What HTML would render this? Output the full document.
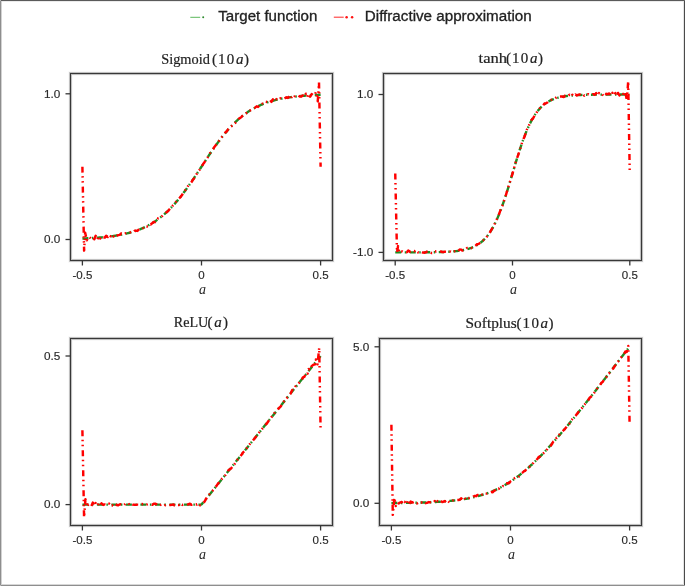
<!DOCTYPE html>
<html><head><meta charset="utf-8"><style>
html,body{margin:0;padding:0;background:#fff;}
#wrap{position:relative;width:685px;height:586px;overflow:hidden;}
svg{position:absolute;left:0;top:0;will-change:transform;}
.tk{font-family:"Liberation Sans",sans-serif;font-size:10.5px;fill:#2a2a2a;stroke:#2a2a2a;stroke-width:0.15px;}
.xl{font-family:"Liberation Serif",serif;font-size:14px;font-style:italic;fill:#262626;}
.tt{font-family:"Liberation Serif",serif;font-size:15px;fill:#222;stroke:#222;stroke-width:0.2px;}
.lg{font-family:"Liberation Sans",sans-serif;font-size:14px;fill:#222;stroke:#222;stroke-width:0.3px;}
</style></head><body><div id="wrap">
<svg width="685" height="586" viewBox="0 0 685 586"><g><rect width="685" height="586" fill="#fff"/>
<path d="M82.40 238.52 L83.20 238.49 L83.99 238.46 L84.79 238.42 L85.59 238.39 L86.38 238.35 L87.18 238.31 L87.98 238.27 L88.77 238.23 L89.57 238.19 L90.37 238.14 L91.16 238.10 L91.96 238.05 L92.76 238.00 L93.55 237.95 L94.35 237.90 L95.15 237.84 L95.94 237.79 L96.74 237.73 L97.54 237.67 L98.33 237.61 L99.13 237.55 L99.93 237.48 L100.72 237.41 L101.52 237.34 L102.32 237.27 L103.11 237.19 L103.91 237.12 L104.71 237.04 L105.50 236.96 L106.30 236.87 L107.10 236.78 L107.89 236.69 L108.69 236.60 L109.49 236.50 L110.28 236.40 L111.08 236.30 L111.88 236.19 L112.67 236.08 L113.47 235.97 L114.27 235.85 L115.06 235.73 L115.86 235.61 L116.66 235.48 L117.45 235.35 L118.25 235.21 L119.05 235.07 L119.84 234.92 L120.64 234.77 L121.44 234.61 L122.23 234.45 L123.03 234.29 L123.83 234.12 L124.62 233.94 L125.42 233.76 L126.22 233.57 L127.01 233.38 L127.81 233.18 L128.61 232.98 L129.40 232.76 L130.20 232.55 L131.00 232.32 L131.79 232.09 L132.59 231.85 L133.39 231.60 L134.18 231.35 L134.98 231.09 L135.78 230.82 L136.57 230.54 L137.37 230.26 L138.17 229.96 L138.96 229.66 L139.76 229.35 L140.56 229.03 L141.35 228.70 L142.15 228.36 L142.95 228.01 L143.74 227.65 L144.54 227.28 L145.34 226.91 L146.13 226.52 L146.93 226.11 L147.73 225.70 L148.52 225.28 L149.32 224.84 L150.12 224.40 L150.91 223.94 L151.71 223.47 L152.51 222.98 L153.30 222.49 L154.10 221.98 L154.90 221.46 L155.69 220.92 L156.49 220.37 L157.29 219.81 L158.08 219.23 L158.88 218.64 L159.68 218.04 L160.47 217.42 L161.27 216.78 L162.07 216.13 L162.86 215.47 L163.66 214.79 L164.46 214.10 L165.25 213.39 L166.05 212.67 L166.85 211.93 L167.64 211.17 L168.44 210.40 L169.24 209.61 L170.03 208.81 L170.83 207.99 L171.63 207.16 L172.42 206.31 L173.22 205.44 L174.02 204.56 L174.81 203.67 L175.61 202.76 L176.41 201.83 L177.20 200.89 L178.00 199.93 L178.80 198.96 L179.59 197.97 L180.39 196.97 L181.19 195.96 L181.98 194.93 L182.78 193.89 L183.58 192.84 L184.37 191.77 L185.17 190.69 L185.97 189.60 L186.76 188.49 L187.56 187.38 L188.36 186.26 L189.15 185.12 L189.95 183.98 L190.75 182.82 L191.54 181.66 L192.34 180.49 L193.14 179.31 L193.93 178.13 L194.73 176.94 L195.53 175.74 L196.32 174.54 L197.12 173.33 L197.92 172.12 L198.71 170.91 L199.51 169.69 L200.31 168.48 L201.10 167.26 L201.90 166.04 L202.69 164.82 L203.49 163.61 L204.29 162.39 L205.08 161.18 L205.88 159.97 L206.68 158.76 L207.47 157.56 L208.27 156.36 L209.07 155.17 L209.86 153.99 L210.66 152.81 L211.46 151.64 L212.25 150.48 L213.05 149.32 L213.85 148.18 L214.64 147.04 L215.44 145.92 L216.24 144.81 L217.03 143.70 L217.83 142.61 L218.63 141.53 L219.42 140.46 L220.22 139.41 L221.02 138.37 L221.81 137.34 L222.61 136.33 L223.41 135.33 L224.20 134.34 L225.00 133.37 L225.80 132.41 L226.59 131.47 L227.39 130.54 L228.19 129.63 L228.98 128.74 L229.78 127.86 L230.58 126.99 L231.37 126.14 L232.17 125.31 L232.97 124.49 L233.76 123.69 L234.56 122.90 L235.36 122.13 L236.15 121.37 L236.95 120.63 L237.75 119.91 L238.54 119.20 L239.34 118.51 L240.14 117.83 L240.93 117.17 L241.73 116.52 L242.53 115.88 L243.32 115.26 L244.12 114.66 L244.92 114.07 L245.71 113.49 L246.51 112.93 L247.31 112.38 L248.10 111.84 L248.90 111.32 L249.70 110.81 L250.49 110.32 L251.29 109.83 L252.09 109.36 L252.88 108.90 L253.68 108.46 L254.48 108.02 L255.27 107.60 L256.07 107.19 L256.87 106.78 L257.66 106.39 L258.46 106.02 L259.26 105.65 L260.05 105.29 L260.85 104.94 L261.65 104.60 L262.44 104.27 L263.24 103.95 L264.04 103.64 L264.83 103.34 L265.63 103.04 L266.43 102.76 L267.22 102.48 L268.02 102.21 L268.82 101.95 L269.61 101.70 L270.41 101.45 L271.21 101.21 L272.00 100.98 L272.80 100.75 L273.60 100.54 L274.39 100.32 L275.19 100.12 L275.99 99.92 L276.78 99.73 L277.58 99.54 L278.38 99.36 L279.17 99.18 L279.97 99.01 L280.77 98.85 L281.56 98.69 L282.36 98.53 L283.16 98.38 L283.95 98.23 L284.75 98.09 L285.55 97.95 L286.34 97.82 L287.14 97.69 L287.94 97.57 L288.73 97.45 L289.53 97.33 L290.33 97.22 L291.12 97.11 L291.92 97.00 L292.72 96.90 L293.51 96.80 L294.31 96.70 L295.11 96.61 L295.90 96.52 L296.70 96.43 L297.50 96.34 L298.29 96.26 L299.09 96.18 L299.89 96.11 L300.68 96.03 L301.48 95.96 L302.28 95.89 L303.07 95.82 L303.87 95.75 L304.67 95.69 L305.46 95.63 L306.26 95.57 L307.06 95.51 L307.85 95.46 L308.65 95.40 L309.45 95.35 L310.24 95.30 L311.04 95.25 L311.84 95.20 L312.63 95.16 L313.43 95.11 L314.23 95.07 L315.02 95.03 L315.82 94.99 L316.62 94.95 L317.41 94.91 L318.21 94.88 L319.01 94.84 L319.80 94.81 L320.60 94.78" fill="none" stroke="#228b22" stroke-width="2.4" stroke-dasharray="6 3.5 1.5 3.5"/>
<path d="M82.40 166.65 L84.10 250.64 L85.16 232.82 L86.83 240.34 L88.26 237.10 L89.58 237.35 L91.44 239.07 L92.82 237.41 L94.32 239.20 L95.69 235.80 L97.36 239.49 L98.70 236.51 L100.24 238.49 L101.59 236.13 L103.06 237.46 L104.93 237.48 L106.14 235.78 L107.75 236.95 L109.19 234.76 L110.62 236.29 L112.10 234.36 L113.76 236.42 L115.11 234.47 L116.62 235.98 L118.13 235.16 L119.80 234.84 L121.21 233.36 L122.65 233.78 L124.00 234.41 L125.37 233.38 L127.20 232.89 L128.70 232.34 L130.02 232.33 L131.61 231.49 L133.13 232.43 L134.63 230.79 L136.13 230.62 L137.42 230.90 L139.20 229.09 L140.27 229.28 L142.08 228.24 L143.51 228.07 L145.06 226.24 L146.70 226.55 L148.13 226.26 L149.22 223.99 L150.63 224.47 L152.49 223.01 L153.71 221.97 L155.35 221.97 L156.96 220.68 L158.08 218.31 L159.50 218.09 L161.34 216.94 L162.80 215.49 L164.24 214.56 L165.78 212.85 L167.13 211.90 L168.52 210.61 L170.21 208.43 L171.58 207.03 L172.97 205.36 L174.78 203.77 L176.18 201.67 L177.74 200.07 L179.02 198.42 L180.56 196.99 L182.00 195.10 L183.50 192.33 L185.15 190.41 L186.50 188.98 L188.15 185.88 L189.64 184.37 L191.38 182.28 L192.36 180.58 L194.19 178.17 L195.53 175.59 L197.03 173.35 L198.31 171.11 L199.94 169.43 L201.61 166.51 L202.98 164.27 L204.49 162.23 L205.92 159.79 L207.63 157.53 L208.94 154.98 L210.10 153.14 L211.82 150.83 L213.11 149.18 L214.41 146.95 L216.31 144.54 L218.08 142.84 L219.37 140.37 L220.68 139.01 L222.20 136.64 L224.00 135.02 L225.34 132.51 L226.82 131.30 L228.29 128.91 L229.79 126.93 L231.40 126.23 L232.85 124.21 L234.28 123.37 L235.58 122.67 L237.31 120.05 L238.62 118.76 L240.37 117.82 L241.51 116.86 L243.16 115.16 L244.67 114.31 L245.96 113.34 L247.91 112.58 L249.36 110.49 L250.56 110.31 L252.23 109.30 L253.66 107.95 L254.70 107.90 L256.62 106.33 L258.06 106.92 L259.57 105.37 L260.89 105.17 L262.50 103.63 L264.00 103.81 L265.69 101.77 L267.06 102.02 L268.49 102.26 L270.21 100.26 L271.39 101.83 L272.90 99.40 L274.18 101.12 L276.17 99.02 L277.57 100.45 L279.05 98.94 L280.50 98.31 L281.91 99.19 L283.41 99.20 L284.83 98.19 L286.33 97.32 L287.86 97.98 L289.56 96.16 L290.91 98.49 L292.30 95.92 L293.72 97.38 L295.20 95.60 L297.02 96.35 L298.34 95.48 L299.77 96.57 L301.19 96.53 L302.57 95.45 L304.21 97.01 L305.84 93.69 L307.14 96.93 L308.66 93.47 L310.15 96.69 L311.68 94.05 L312.92 95.17 L314.61 95.10 L316.01 91.94 L317.76 101.31 L319.00 82.43 L320.60 166.65" fill="none" stroke="#ff0000" stroke-width="2.45" stroke-dasharray="6 3.5 1.5 3.5 1.5 4" stroke-linejoin="round"/>
<rect x="70.5" y="73.5" width="262.0" height="187.0" fill="none" stroke="#f8f8f8" stroke-width="4.60"/>
<rect x="70.5" y="73.5" width="262.0" height="187.0" fill="none" stroke="#c8c8c8" stroke-width="3.00"/>
<rect x="70.5" y="73.5" width="262.0" height="187.0" fill="none" stroke="#383838" stroke-width="1.10"/>
<line x1="82.4" y1="260.5" x2="82.4" y2="265.5" stroke="#363636" stroke-width="1.3"/>
<text transform="translate(82.4 278.8) scale(1.1 1)" text-anchor="middle" class="tk">-0.5</text>
<line x1="201.5" y1="260.5" x2="201.5" y2="265.5" stroke="#363636" stroke-width="1.3"/>
<text transform="translate(201.5 278.8) scale(1.1 1)" text-anchor="middle" class="tk">0</text>
<line x1="320.6" y1="260.5" x2="320.6" y2="265.5" stroke="#363636" stroke-width="1.3"/>
<text transform="translate(320.6 278.8) scale(1.1 1)" text-anchor="middle" class="tk">0.5</text>
<text x="202.5" y="293.7" text-anchor="middle" class="xl">a</text>
<line x1="65.5" y1="93.8" x2="70.5" y2="93.8" stroke="#363636" stroke-width="1.3"/>
<text transform="translate(60.3 97.6) scale(1.12 1)" text-anchor="end" class="tk">1.0</text>
<line x1="65.5" y1="239.5" x2="70.5" y2="239.5" stroke="#363636" stroke-width="1.3"/>
<text transform="translate(60.3 243.3) scale(1.12 1)" text-anchor="end" class="tk">0.0</text>
<text transform="translate(161.22 63.70) scale(0.9571 1)" class="tt">Sigmoid</text>
<text x="211.90" y="63.70" class="tt">(</text>
<text x="217.90" y="63.70" class="tt">1</text>
<text x="226.80" y="63.70" class="tt">0</text>
<text x="235.95" y="63.70" class="tt" font-style="italic">a</text>
<text x="244.00" y="63.70" class="tt">)</text>
<path d="M395.25 252.39 L396.03 252.39 L396.82 252.39 L397.60 252.39 L398.39 252.39 L399.17 252.39 L399.96 252.39 L400.74 252.39 L401.52 252.39 L402.31 252.39 L403.09 252.39 L403.88 252.39 L404.66 252.38 L405.45 252.38 L406.23 252.38 L407.01 252.38 L407.80 252.38 L408.58 252.38 L409.37 252.38 L410.15 252.37 L410.94 252.37 L411.72 252.37 L412.50 252.37 L413.29 252.37 L414.07 252.36 L414.86 252.36 L415.64 252.36 L416.43 252.36 L417.21 252.35 L417.99 252.35 L418.78 252.35 L419.56 252.34 L420.35 252.34 L421.13 252.33 L421.92 252.33 L422.70 252.33 L423.48 252.32 L424.27 252.31 L425.05 252.31 L425.84 252.30 L426.62 252.30 L427.41 252.29 L428.19 252.28 L428.97 252.27 L429.76 252.26 L430.54 252.25 L431.33 252.24 L432.11 252.23 L432.90 252.22 L433.68 252.21 L434.46 252.20 L435.25 252.18 L436.03 252.17 L436.82 252.15 L437.60 252.13 L438.39 252.12 L439.17 252.10 L439.95 252.08 L440.74 252.05 L441.52 252.03 L442.31 252.00 L443.09 251.98 L443.88 251.95 L444.66 251.92 L445.44 251.88 L446.23 251.85 L447.01 251.81 L447.80 251.77 L448.58 251.73 L449.37 251.68 L450.15 251.63 L450.93 251.58 L451.72 251.52 L452.50 251.46 L453.29 251.39 L454.07 251.33 L454.86 251.25 L455.64 251.17 L456.42 251.09 L457.21 251.00 L457.99 250.90 L458.78 250.80 L459.56 250.69 L460.35 250.57 L461.13 250.45 L461.91 250.32 L462.70 250.17 L463.48 250.02 L464.27 249.86 L465.05 249.69 L465.84 249.50 L466.62 249.31 L467.40 249.10 L468.19 248.87 L468.97 248.64 L469.76 248.38 L470.54 248.11 L471.33 247.82 L472.11 247.52 L472.89 247.19 L473.68 246.84 L474.46 246.47 L475.25 246.08 L476.03 245.66 L476.82 245.22 L477.60 244.74 L478.38 244.24 L479.17 243.71 L479.95 243.14 L480.74 242.54 L481.52 241.90 L482.31 241.23 L483.09 240.51 L483.87 239.76 L484.66 238.96 L485.44 238.11 L486.23 237.22 L487.01 236.28 L487.80 235.28 L488.58 234.23 L489.36 233.13 L490.15 231.97 L490.93 230.75 L491.72 229.47 L492.50 228.13 L493.29 226.72 L494.07 225.25 L494.85 223.71 L495.64 222.11 L496.42 220.44 L497.21 218.70 L497.99 216.89 L498.78 215.02 L499.56 213.07 L500.34 211.07 L501.13 208.99 L501.91 206.86 L502.70 204.66 L503.48 202.40 L504.27 200.09 L505.05 197.72 L505.83 195.31 L506.62 192.85 L507.40 190.35 L508.19 187.81 L508.97 185.24 L509.76 182.65 L510.54 180.04 L511.32 177.41 L512.11 174.77 L512.89 172.13 L513.68 169.49 L514.46 166.86 L515.24 164.25 L516.03 161.66 L516.81 159.09 L517.60 156.55 L518.38 154.05 L519.17 151.59 L519.95 149.18 L520.73 146.81 L521.52 144.50 L522.30 142.24 L523.09 140.04 L523.87 137.91 L524.66 135.83 L525.44 133.83 L526.22 131.88 L527.01 130.01 L527.79 128.20 L528.58 126.46 L529.36 124.79 L530.15 123.19 L530.93 121.65 L531.71 120.18 L532.50 118.77 L533.28 117.43 L534.07 116.15 L534.85 114.93 L535.64 113.77 L536.42 112.67 L537.20 111.62 L537.99 110.62 L538.77 109.68 L539.56 108.79 L540.34 107.94 L541.13 107.14 L541.91 106.39 L542.69 105.67 L543.48 105.00 L544.26 104.36 L545.05 103.76 L545.83 103.19 L546.62 102.66 L547.40 102.16 L548.18 101.68 L548.97 101.24 L549.75 100.82 L550.54 100.43 L551.32 100.06 L552.11 99.71 L552.89 99.38 L553.67 99.08 L554.46 98.79 L555.24 98.52 L556.03 98.26 L556.81 98.03 L557.60 97.80 L558.38 97.59 L559.16 97.40 L559.95 97.21 L560.73 97.04 L561.52 96.88 L562.30 96.73 L563.09 96.58 L563.87 96.45 L564.65 96.33 L565.44 96.21 L566.22 96.10 L567.01 96.00 L567.79 95.90 L568.58 95.81 L569.36 95.73 L570.14 95.65 L570.93 95.57 L571.71 95.51 L572.50 95.44 L573.28 95.38 L574.07 95.32 L574.85 95.27 L575.63 95.22 L576.42 95.17 L577.20 95.13 L577.99 95.09 L578.77 95.05 L579.56 95.02 L580.34 94.98 L581.12 94.95 L581.91 94.92 L582.69 94.90 L583.48 94.87 L584.26 94.85 L585.05 94.82 L585.83 94.80 L586.61 94.78 L587.40 94.77 L588.18 94.75 L588.97 94.73 L589.75 94.72 L590.54 94.70 L591.32 94.69 L592.10 94.68 L592.89 94.67 L593.67 94.66 L594.46 94.65 L595.24 94.64 L596.03 94.63 L596.81 94.62 L597.59 94.61 L598.38 94.60 L599.16 94.60 L599.95 94.59 L600.73 94.59 L601.52 94.58 L602.30 94.57 L603.08 94.57 L603.87 94.57 L604.65 94.56 L605.44 94.56 L606.22 94.55 L607.01 94.55 L607.79 94.55 L608.57 94.54 L609.36 94.54 L610.14 94.54 L610.93 94.54 L611.71 94.53 L612.50 94.53 L613.28 94.53 L614.06 94.53 L614.85 94.53 L615.63 94.52 L616.42 94.52 L617.20 94.52 L617.99 94.52 L618.77 94.52 L619.55 94.52 L620.34 94.52 L621.12 94.51 L621.91 94.51 L622.69 94.51 L623.48 94.51 L624.26 94.51 L625.04 94.51 L625.83 94.51 L626.61 94.51 L627.40 94.51 L628.18 94.51 L628.97 94.51 L629.75 94.51" fill="none" stroke="#228b22" stroke-width="2.4" stroke-dasharray="6 3.5 1.5 3.5"/>
<path d="M395.25 173.45 L397.00 252.63 L398.03 246.09 L399.41 252.55 L400.96 251.43 L402.38 251.55 L404.16 252.67 L405.63 252.07 L406.83 252.21 L408.23 250.47 L409.85 251.70 L411.58 251.16 L412.41 251.57 L414.38 251.00 L415.61 253.10 L417.39 251.81 L418.54 252.67 L420.12 253.21 L421.41 251.78 L422.95 252.57 L424.77 252.72 L426.15 252.09 L427.43 251.39 L428.83 251.40 L430.14 252.10 L431.83 253.11 L433.35 252.76 L434.81 251.31 L436.27 251.56 L437.58 251.37 L439.21 252.16 L440.68 251.52 L442.34 252.04 L443.90 251.91 L445.06 251.68 L446.43 251.81 L448.00 251.77 L449.39 251.55 L450.83 251.61 L452.40 252.46 L453.72 251.40 L455.43 251.11 L456.79 249.82 L458.31 251.02 L459.71 249.44 L461.09 249.60 L462.53 250.64 L464.10 250.17 L465.52 249.36 L467.10 248.01 L468.53 248.41 L469.79 247.74 L471.47 248.01 L472.73 248.32 L474.30 246.57 L475.82 245.34 L477.01 244.26 L478.80 243.85 L480.28 242.72 L481.70 241.05 L483.12 240.35 L484.60 238.33 L485.97 237.70 L487.54 235.84 L488.97 233.93 L490.53 231.25 L491.80 229.13 L493.48 226.34 L494.93 223.34 L496.36 220.39 L497.78 216.74 L499.39 213.33 L500.53 209.95 L502.31 205.88 L503.74 201.72 L505.21 197.54 L506.69 192.46 L508.01 187.82 L509.53 183.29 L511.13 178.25 L512.56 173.39 L514.00 168.49 L515.20 163.68 L516.98 158.47 L518.54 153.95 L519.98 149.70 L521.33 145.18 L522.53 140.59 L524.37 137.06 L525.67 133.38 L526.78 129.74 L528.68 126.33 L529.86 123.02 L531.36 120.20 L532.92 118.57 L534.68 115.44 L535.89 113.90 L537.46 110.95 L539.14 109.70 L540.59 106.98 L541.80 106.43 L543.24 105.34 L544.55 103.50 L546.11 103.28 L547.74 102.21 L549.20 100.59 L550.62 100.03 L552.22 99.57 L553.42 98.83 L554.99 98.47 L556.58 97.30 L558.02 97.73 L559.56 96.44 L560.93 96.39 L562.28 96.57 L563.85 96.99 L565.11 95.40 L566.48 95.80 L568.28 95.69 L569.65 94.71 L571.17 96.36 L572.34 94.69 L574.00 96.48 L575.43 94.48 L576.86 95.49 L578.11 94.93 L579.87 94.39 L581.52 95.52 L582.91 94.36 L584.23 95.62 L585.78 94.19 L587.36 94.57 L588.30 94.16 L590.16 95.06 L591.73 95.04 L593.21 94.13 L594.83 94.80 L596.21 93.15 L597.55 95.54 L599.02 93.15 L600.56 94.26 L601.82 93.65 L603.36 95.94 L604.97 93.02 L606.59 94.23 L607.74 94.07 L609.22 93.50 L610.73 95.47 L612.36 92.88 L613.62 95.50 L615.31 93.11 L616.41 95.85 L618.00 92.94 L619.46 95.45 L621.07 92.72 L622.58 93.66 L623.66 96.59 L625.22 91.45 L626.87 100.60 L628.19 81.20 L629.75 173.45" fill="none" stroke="#ff0000" stroke-width="2.45" stroke-dasharray="6 3.5 1.5 3.5 1.5 4" stroke-linejoin="round"/>
<rect x="383.5" y="73.5" width="258.0" height="187.0" fill="none" stroke="#f8f8f8" stroke-width="4.60"/>
<rect x="383.5" y="73.5" width="258.0" height="187.0" fill="none" stroke="#c8c8c8" stroke-width="3.00"/>
<rect x="383.5" y="73.5" width="258.0" height="187.0" fill="none" stroke="#383838" stroke-width="1.10"/>
<line x1="395.2" y1="260.5" x2="395.2" y2="265.5" stroke="#363636" stroke-width="1.3"/>
<text transform="translate(395.2 278.8) scale(1.1 1)" text-anchor="middle" class="tk">-0.5</text>
<line x1="512.5" y1="260.5" x2="512.5" y2="265.5" stroke="#363636" stroke-width="1.3"/>
<text transform="translate(512.5 278.8) scale(1.1 1)" text-anchor="middle" class="tk">0</text>
<line x1="629.8" y1="260.5" x2="629.8" y2="265.5" stroke="#363636" stroke-width="1.3"/>
<text transform="translate(629.8 278.8) scale(1.1 1)" text-anchor="middle" class="tk">0.5</text>
<text x="513.5" y="293.7" text-anchor="middle" class="xl">a</text>
<line x1="378.5" y1="94.5" x2="383.5" y2="94.5" stroke="#363636" stroke-width="1.3"/>
<text transform="translate(373.3 98.3) scale(1.12 1)" text-anchor="end" class="tk">1.0</text>
<line x1="378.5" y1="252.4" x2="383.5" y2="252.4" stroke="#363636" stroke-width="1.3"/>
<text transform="translate(373.3 256.2) scale(1.12 1)" text-anchor="end" class="tk">-1.0</text>
<text transform="translate(478.55 62.80) scale(1.1042 1)" class="tt">tanh</text>
<text x="505.90" y="62.80" class="tt">(</text>
<text x="511.90" y="62.80" class="tt">1</text>
<text x="520.80" y="62.80" class="tt">0</text>
<text x="529.95" y="62.80" class="tt" font-style="italic">a</text>
<text x="538.00" y="62.80" class="tt">)</text>
<path d="M82.40 504.60 L83.20 504.60 L83.99 504.60 L84.79 504.60 L85.59 504.60 L86.38 504.60 L87.18 504.60 L87.98 504.60 L88.77 504.60 L89.57 504.60 L90.37 504.60 L91.16 504.60 L91.96 504.60 L92.76 504.60 L93.55 504.60 L94.35 504.60 L95.15 504.60 L95.94 504.60 L96.74 504.60 L97.54 504.60 L98.33 504.60 L99.13 504.60 L99.93 504.60 L100.72 504.60 L101.52 504.60 L102.32 504.60 L103.11 504.60 L103.91 504.60 L104.71 504.60 L105.50 504.60 L106.30 504.60 L107.10 504.60 L107.89 504.60 L108.69 504.60 L109.49 504.60 L110.28 504.60 L111.08 504.60 L111.88 504.60 L112.67 504.60 L113.47 504.60 L114.27 504.60 L115.06 504.60 L115.86 504.60 L116.66 504.60 L117.45 504.60 L118.25 504.60 L119.05 504.60 L119.84 504.60 L120.64 504.60 L121.44 504.60 L122.23 504.60 L123.03 504.60 L123.83 504.60 L124.62 504.60 L125.42 504.60 L126.22 504.60 L127.01 504.60 L127.81 504.60 L128.61 504.60 L129.40 504.60 L130.20 504.60 L131.00 504.60 L131.79 504.60 L132.59 504.60 L133.39 504.60 L134.18 504.60 L134.98 504.60 L135.78 504.60 L136.57 504.60 L137.37 504.60 L138.17 504.60 L138.96 504.60 L139.76 504.60 L140.56 504.60 L141.35 504.60 L142.15 504.60 L142.95 504.60 L143.74 504.60 L144.54 504.60 L145.34 504.60 L146.13 504.60 L146.93 504.60 L147.73 504.60 L148.52 504.60 L149.32 504.60 L150.12 504.60 L150.91 504.60 L151.71 504.60 L152.51 504.60 L153.30 504.60 L154.10 504.60 L154.90 504.60 L155.69 504.60 L156.49 504.60 L157.29 504.60 L158.08 504.60 L158.88 504.60 L159.68 504.60 L160.47 504.60 L161.27 504.60 L162.07 504.60 L162.86 504.60 L163.66 504.60 L164.46 504.60 L165.25 504.60 L166.05 504.60 L166.85 504.60 L167.64 504.60 L168.44 504.60 L169.24 504.60 L170.03 504.60 L170.83 504.60 L171.63 504.60 L172.42 504.60 L173.22 504.60 L174.02 504.60 L174.81 504.60 L175.61 504.60 L176.41 504.60 L177.20 504.60 L178.00 504.60 L178.80 504.60 L179.59 504.60 L180.39 504.60 L181.19 504.60 L181.98 504.60 L182.78 504.60 L183.58 504.60 L184.37 504.60 L185.17 504.60 L185.97 504.60 L186.76 504.60 L187.56 504.60 L188.36 504.60 L189.15 504.60 L189.95 504.60 L190.75 504.60 L191.54 504.60 L192.34 504.60 L193.14 504.60 L193.93 504.60 L194.73 504.60 L195.53 504.60 L196.32 504.60 L197.12 504.60 L197.92 504.60 L198.71 504.60 L199.51 504.60 L200.31 504.60 L201.10 504.60 L201.90 504.10 L202.69 503.11 L203.49 502.12 L204.29 501.12 L205.08 500.13 L205.88 499.13 L206.68 498.14 L207.47 497.15 L208.27 496.15 L209.07 495.16 L209.86 494.16 L210.66 493.17 L211.46 492.18 L212.25 491.18 L213.05 490.19 L213.85 489.19 L214.64 488.20 L215.44 487.21 L216.24 486.21 L217.03 485.22 L217.83 484.22 L218.63 483.23 L219.42 482.24 L220.22 481.24 L221.02 480.25 L221.81 479.25 L222.61 478.26 L223.41 477.27 L224.20 476.27 L225.00 475.28 L225.80 474.28 L226.59 473.29 L227.39 472.30 L228.19 471.30 L228.98 470.31 L229.78 469.31 L230.58 468.32 L231.37 467.33 L232.17 466.33 L232.97 465.34 L233.76 464.34 L234.56 463.35 L235.36 462.36 L236.15 461.36 L236.95 460.37 L237.75 459.37 L238.54 458.38 L239.34 457.39 L240.14 456.39 L240.93 455.40 L241.73 454.40 L242.53 453.41 L243.32 452.42 L244.12 451.42 L244.92 450.43 L245.71 449.43 L246.51 448.44 L247.31 447.45 L248.10 446.45 L248.90 445.46 L249.70 444.46 L250.49 443.47 L251.29 442.48 L252.09 441.48 L252.88 440.49 L253.68 439.49 L254.48 438.50 L255.27 437.51 L256.07 436.51 L256.87 435.52 L257.66 434.52 L258.46 433.53 L259.26 432.54 L260.05 431.54 L260.85 430.55 L261.65 429.55 L262.44 428.56 L263.24 427.57 L264.04 426.57 L264.83 425.58 L265.63 424.58 L266.43 423.59 L267.22 422.60 L268.02 421.60 L268.82 420.61 L269.61 419.61 L270.41 418.62 L271.21 417.63 L272.00 416.63 L272.80 415.64 L273.60 414.64 L274.39 413.65 L275.19 412.66 L275.99 411.66 L276.78 410.67 L277.58 409.67 L278.38 408.68 L279.17 407.69 L279.97 406.69 L280.77 405.70 L281.56 404.71 L282.36 403.71 L283.16 402.72 L283.95 401.72 L284.75 400.73 L285.55 399.74 L286.34 398.74 L287.14 397.75 L287.94 396.75 L288.73 395.76 L289.53 394.77 L290.33 393.77 L291.12 392.78 L291.92 391.78 L292.72 390.79 L293.51 389.80 L294.31 388.80 L295.11 387.81 L295.90 386.81 L296.70 385.82 L297.50 384.83 L298.29 383.83 L299.09 382.84 L299.89 381.84 L300.68 380.85 L301.48 379.86 L302.28 378.86 L303.07 377.87 L303.87 376.87 L304.67 375.88 L305.46 374.89 L306.26 373.89 L307.06 372.90 L307.85 371.90 L308.65 370.91 L309.45 369.92 L310.24 368.92 L311.04 367.93 L311.84 366.93 L312.63 365.94 L313.43 364.95 L314.23 363.95 L315.02 362.96 L315.82 361.96 L316.62 360.97 L317.41 359.98 L318.21 358.98 L319.01 357.99 L319.80 356.99 L320.60 356.00" fill="none" stroke="#228b22" stroke-width="2.4" stroke-dasharray="6 3.5 1.5 3.5"/>
<path d="M82.40 430.30 L84.07 517.32 L85.44 499.29 L86.93 506.97 L88.42 504.31 L89.63 504.23 L91.31 506.24 L92.78 502.61 L94.34 505.76 L95.59 503.02 L97.53 505.76 L98.79 503.66 L100.08 505.78 L101.50 503.37 L103.20 504.96 L104.72 504.42 L106.11 504.83 L107.72 504.76 L109.10 503.65 L110.77 506.08 L112.07 505.20 L113.66 506.46 L115.30 504.11 L117.03 505.09 L117.98 505.35 L119.55 504.52 L120.98 504.19 L122.71 504.36 L123.91 505.28 L125.50 503.65 L127.06 504.07 L128.40 503.33 L129.90 505.33 L131.46 503.91 L132.70 504.63 L134.29 504.73 L135.93 504.86 L137.51 504.60 L138.94 504.63 L140.20 504.37 L141.88 504.08 L143.56 504.27 L145.01 505.05 L146.40 504.74 L147.77 504.08 L149.49 504.39 L150.80 504.55 L152.20 504.88 L153.74 503.83 L155.57 503.77 L156.87 504.59 L158.50 505.93 L159.74 505.33 L161.44 504.42 L162.70 505.08 L164.26 505.84 L166.14 504.41 L167.37 504.48 L168.67 505.20 L170.22 505.04 L171.77 504.86 L173.40 504.43 L174.63 505.65 L175.93 505.70 L177.64 504.90 L179.17 505.01 L180.67 503.42 L182.34 504.92 L183.68 504.57 L185.25 504.77 L186.45 505.10 L188.23 504.31 L189.90 503.65 L191.19 504.78 L192.61 504.18 L194.08 504.40 L195.81 504.22 L196.89 504.43 L198.51 503.17 L200.08 505.37 L201.61 504.69 L202.92 503.19 L204.52 501.60 L205.92 499.05 L207.47 496.49 L208.92 494.98 L210.26 493.01 L211.92 491.40 L213.54 489.77 L214.75 487.13 L216.35 486.15 L217.98 483.61 L219.20 482.41 L220.88 480.42 L222.18 478.47 L224.00 476.71 L225.67 474.69 L227.11 472.77 L228.26 470.57 L229.90 469.25 L231.29 468.20 L232.78 466.28 L234.48 464.29 L235.54 462.10 L237.39 459.79 L238.71 458.70 L240.42 456.26 L241.72 454.48 L243.08 452.40 L244.72 450.87 L246.27 448.60 L247.66 447.10 L249.21 444.65 L250.55 443.24 L251.80 442.25 L253.74 439.56 L255.20 437.69 L256.61 435.98 L258.08 434.42 L259.72 431.56 L260.98 430.42 L262.43 428.59 L264.00 426.86 L265.69 424.64 L266.80 423.53 L268.67 420.75 L269.89 419.11 L271.31 417.26 L273.15 415.77 L274.43 413.14 L275.74 411.16 L277.37 409.99 L279.05 407.97 L280.58 406.60 L281.83 404.69 L283.44 401.85 L284.98 400.99 L286.26 398.35 L287.90 397.00 L289.33 394.72 L290.74 393.35 L292.24 389.95 L293.81 389.81 L295.30 386.61 L296.70 385.72 L298.20 383.98 L299.92 381.89 L301.28 381.26 L302.87 377.43 L304.40 376.89 L305.80 373.07 L307.54 373.70 L308.57 369.10 L310.30 370.30 L311.62 366.13 L313.43 364.73 L314.90 364.41 L315.84 359.43 L317.48 364.31 L319.21 347.99 L320.60 430.30" fill="none" stroke="#ff0000" stroke-width="2.45" stroke-dasharray="6 3.5 1.5 3.5 1.5 4" stroke-linejoin="round"/>
<rect x="70.5" y="338.5" width="262.0" height="187.0" fill="none" stroke="#f8f8f8" stroke-width="4.60"/>
<rect x="70.5" y="338.5" width="262.0" height="187.0" fill="none" stroke="#c8c8c8" stroke-width="3.00"/>
<rect x="70.5" y="338.5" width="262.0" height="187.0" fill="none" stroke="#383838" stroke-width="1.10"/>
<line x1="82.4" y1="525.5" x2="82.4" y2="530.5" stroke="#363636" stroke-width="1.3"/>
<text transform="translate(82.4 543.8) scale(1.1 1)" text-anchor="middle" class="tk">-0.5</text>
<line x1="201.5" y1="525.5" x2="201.5" y2="530.5" stroke="#363636" stroke-width="1.3"/>
<text transform="translate(201.5 543.8) scale(1.1 1)" text-anchor="middle" class="tk">0</text>
<line x1="320.6" y1="525.5" x2="320.6" y2="530.5" stroke="#363636" stroke-width="1.3"/>
<text transform="translate(320.6 543.8) scale(1.1 1)" text-anchor="middle" class="tk">0.5</text>
<text x="202.5" y="558.7" text-anchor="middle" class="xl">a</text>
<line x1="65.5" y1="356.0" x2="70.5" y2="356.0" stroke="#363636" stroke-width="1.3"/>
<text transform="translate(60.3 359.8) scale(1.12 1)" text-anchor="end" class="tk">0.5</text>
<line x1="65.5" y1="504.6" x2="70.5" y2="504.6" stroke="#363636" stroke-width="1.3"/>
<text transform="translate(60.3 508.4) scale(1.12 1)" text-anchor="end" class="tk">0.0</text>
<text transform="translate(173.73 327.00) scale(0.9429 1)" class="tt">ReLU</text>
<text x="207.50" y="327.00" class="tt">(</text>
<text x="214.30" y="327.00" class="tt" font-style="italic">a</text>
<text x="223.00" y="327.00" class="tt">)</text>
<path d="M391.40 503.09 L392.20 503.08 L392.99 503.08 L393.79 503.07 L394.59 503.06 L395.38 503.05 L396.18 503.04 L396.98 503.03 L397.77 503.03 L398.57 503.02 L399.37 503.01 L400.16 503.00 L400.96 502.99 L401.76 502.98 L402.55 502.96 L403.35 502.95 L404.15 502.94 L404.94 502.93 L405.74 502.92 L406.54 502.90 L407.33 502.89 L408.13 502.88 L408.93 502.86 L409.72 502.85 L410.52 502.83 L411.32 502.82 L412.11 502.80 L412.91 502.78 L413.71 502.77 L414.50 502.75 L415.30 502.73 L416.10 502.71 L416.89 502.69 L417.69 502.67 L418.49 502.65 L419.28 502.63 L420.08 502.60 L420.88 502.58 L421.67 502.56 L422.47 502.53 L423.27 502.51 L424.06 502.48 L424.86 502.45 L425.66 502.42 L426.45 502.39 L427.25 502.36 L428.05 502.33 L428.84 502.30 L429.64 502.27 L430.44 502.23 L431.23 502.20 L432.03 502.16 L432.83 502.12 L433.62 502.08 L434.42 502.04 L435.22 502.00 L436.01 501.96 L436.81 501.91 L437.61 501.87 L438.40 501.82 L439.20 501.77 L440.00 501.72 L440.79 501.67 L441.59 501.61 L442.39 501.56 L443.18 501.50 L443.98 501.44 L444.78 501.38 L445.57 501.31 L446.37 501.25 L447.17 501.18 L447.96 501.11 L448.76 501.04 L449.56 500.97 L450.35 500.89 L451.15 500.81 L451.95 500.73 L452.74 500.65 L453.54 500.56 L454.34 500.47 L455.13 500.38 L455.93 500.28 L456.73 500.19 L457.52 500.09 L458.32 499.98 L459.12 499.87 L459.91 499.76 L460.71 499.65 L461.51 499.53 L462.30 499.41 L463.10 499.29 L463.90 499.16 L464.69 499.03 L465.49 498.89 L466.29 498.76 L467.08 498.61 L467.88 498.46 L468.68 498.31 L469.47 498.16 L470.27 497.99 L471.07 497.83 L471.86 497.66 L472.66 497.48 L473.46 497.30 L474.25 497.12 L475.05 496.93 L475.85 496.73 L476.64 496.53 L477.44 496.33 L478.24 496.11 L479.03 495.90 L479.83 495.67 L480.63 495.44 L481.42 495.21 L482.22 494.97 L483.02 494.72 L483.81 494.46 L484.61 494.20 L485.41 493.94 L486.20 493.66 L487.00 493.38 L487.80 493.09 L488.59 492.80 L489.39 492.50 L490.19 492.19 L490.98 491.87 L491.78 491.55 L492.58 491.22 L493.37 490.88 L494.17 490.53 L494.97 490.18 L495.76 489.81 L496.56 489.44 L497.36 489.06 L498.15 488.68 L498.95 488.28 L499.75 487.88 L500.54 487.47 L501.34 487.05 L502.14 486.62 L502.93 486.18 L503.73 485.74 L504.53 485.28 L505.32 484.82 L506.12 484.35 L506.92 483.87 L507.71 483.38 L508.51 482.89 L509.31 482.38 L510.10 481.87 L510.90 481.34 L511.69 480.81 L512.49 480.27 L513.29 479.72 L514.08 479.16 L514.88 478.59 L515.68 478.02 L516.47 477.43 L517.27 476.84 L518.07 476.24 L518.86 475.63 L519.66 475.01 L520.46 474.38 L521.25 473.75 L522.05 473.10 L522.85 472.45 L523.64 471.79 L524.44 471.12 L525.24 470.45 L526.03 469.76 L526.83 469.07 L527.63 468.37 L528.42 467.66 L529.22 466.95 L530.02 466.22 L530.81 465.49 L531.61 464.76 L532.41 464.01 L533.20 463.26 L534.00 462.50 L534.80 461.73 L535.59 460.96 L536.39 460.18 L537.19 459.40 L537.98 458.60 L538.78 457.80 L539.58 457.00 L540.37 456.19 L541.17 455.37 L541.97 454.55 L542.76 453.72 L543.56 452.88 L544.36 452.04 L545.15 451.20 L545.95 450.34 L546.75 449.49 L547.54 448.63 L548.34 447.76 L549.14 446.89 L549.93 446.01 L550.73 445.13 L551.53 444.24 L552.32 443.35 L553.12 442.46 L553.92 441.56 L554.71 440.66 L555.51 439.75 L556.31 438.84 L557.10 437.92 L557.90 437.00 L558.70 436.08 L559.49 435.15 L560.29 434.22 L561.09 433.29 L561.88 432.35 L562.68 431.41 L563.48 430.47 L564.27 429.53 L565.07 428.58 L565.87 427.62 L566.66 426.67 L567.46 425.71 L568.26 424.75 L569.05 423.79 L569.85 422.82 L570.65 421.85 L571.44 420.88 L572.24 419.91 L573.04 418.94 L573.83 417.96 L574.63 416.98 L575.43 416.00 L576.22 415.01 L577.02 414.03 L577.82 413.04 L578.61 412.05 L579.41 411.06 L580.21 410.07 L581.00 409.07 L581.80 408.08 L582.60 407.08 L583.39 406.08 L584.19 405.08 L584.99 404.08 L585.78 403.08 L586.58 402.07 L587.38 401.06 L588.17 400.06 L588.97 399.05 L589.77 398.04 L590.56 397.03 L591.36 396.01 L592.16 395.00 L592.95 393.99 L593.75 392.97 L594.55 391.95 L595.34 390.94 L596.14 389.92 L596.94 388.90 L597.73 387.88 L598.53 386.86 L599.33 385.84 L600.12 384.81 L600.92 383.79 L601.72 382.77 L602.51 381.74 L603.31 380.72 L604.11 379.69 L604.90 378.66 L605.70 377.63 L606.50 376.61 L607.29 375.58 L608.09 374.55 L608.89 373.52 L609.68 372.49 L610.48 371.46 L611.28 370.43 L612.07 369.39 L612.87 368.36 L613.67 367.33 L614.46 366.29 L615.26 365.26 L616.06 364.23 L616.85 363.19 L617.65 362.16 L618.45 361.12 L619.24 360.08 L620.04 359.05 L620.84 358.01 L621.63 356.97 L622.43 355.94 L623.23 354.90 L624.02 353.86 L624.82 352.82 L625.62 351.79 L626.41 350.75 L627.21 349.71 L628.01 348.67 L628.80 347.63 L629.60 346.59" fill="none" stroke="#228b22" stroke-width="2.4" stroke-dasharray="6 3.5 1.5 3.5"/>
<path d="M391.40 424.84 L392.79 514.87 L394.40 497.97 L395.76 505.99 L397.53 502.10 L398.73 503.41 L399.99 502.59 L401.71 501.95 L403.01 503.96 L404.79 501.84 L406.45 504.33 L407.87 501.02 L409.06 504.11 L410.64 501.61 L412.51 502.57 L413.78 501.85 L415.22 502.40 L416.87 503.54 L418.57 502.57 L419.88 503.31 L421.20 502.43 L422.72 503.23 L424.25 501.87 L425.55 503.15 L426.97 502.82 L428.63 502.10 L429.97 502.29 L431.59 501.75 L433.10 502.60 L434.92 501.00 L435.93 503.07 L437.53 501.17 L439.02 502.43 L440.59 500.93 L442.17 501.93 L443.43 501.71 L444.87 500.98 L446.24 502.69 L447.83 501.02 L449.54 502.40 L450.96 501.04 L452.29 500.62 L453.87 500.01 L455.42 500.80 L456.98 500.10 L458.30 500.00 L459.84 499.70 L461.10 498.30 L462.69 499.44 L464.59 497.50 L465.51 499.34 L467.28 497.87 L468.85 498.08 L470.25 497.70 L471.67 497.91 L473.27 496.51 L474.77 495.90 L476.25 496.15 L477.47 494.87 L479.21 495.50 L480.60 496.10 L482.13 494.58 L483.74 494.70 L485.29 493.35 L486.81 493.60 L488.09 492.78 L489.80 492.42 L491.32 492.00 L492.81 492.32 L494.33 490.47 L495.59 490.14 L497.08 488.48 L498.71 488.92 L499.87 487.47 L501.60 487.42 L502.98 486.09 L504.49 486.13 L505.77 483.48 L507.39 483.22 L509.01 483.16 L510.63 481.27 L512.14 480.36 L513.47 479.34 L514.94 477.94 L516.33 477.46 L518.00 477.50 L519.40 475.77 L521.01 473.42 L522.67 472.51 L523.89 471.27 L525.16 470.90 L526.75 468.54 L528.15 467.50 L529.67 466.70 L531.54 465.42 L532.87 463.45 L534.09 461.68 L535.91 460.15 L537.49 458.90 L538.73 456.95 L540.17 456.50 L541.71 454.59 L543.30 453.33 L544.84 452.46 L546.41 450.50 L547.90 447.97 L549.39 447.19 L550.90 445.59 L552.28 443.28 L553.44 441.38 L555.14 440.18 L556.70 437.75 L558.08 437.36 L559.77 434.02 L561.06 432.84 L562.47 431.40 L564.31 429.63 L565.68 428.06 L567.11 426.24 L568.70 424.35 L570.21 422.97 L571.59 419.99 L572.66 418.92 L574.41 416.87 L575.94 415.33 L577.35 413.53 L579.01 411.26 L580.65 409.49 L581.89 408.19 L583.28 406.13 L585.24 403.89 L586.36 403.03 L587.73 401.24 L589.44 397.96 L590.96 396.71 L592.28 395.65 L593.99 393.12 L595.29 390.98 L596.71 388.97 L598.36 386.86 L599.94 385.18 L601.22 383.01 L602.85 381.71 L604.28 379.25 L606.20 377.41 L607.16 375.16 L608.97 373.63 L610.24 371.52 L611.72 369.62 L613.33 368.48 L614.85 365.86 L616.39 364.50 L617.74 361.95 L619.09 360.44 L620.59 358.00 L622.23 356.23 L623.73 354.80 L625.34 351.51 L626.69 352.08 L628.27 346.01 L629.60 424.84" fill="none" stroke="#ff0000" stroke-width="2.45" stroke-dasharray="6 3.5 1.5 3.5 1.5 4" stroke-linejoin="round"/>
<rect x="379.5" y="338.5" width="262.0" height="187.0" fill="none" stroke="#f8f8f8" stroke-width="4.60"/>
<rect x="379.5" y="338.5" width="262.0" height="187.0" fill="none" stroke="#c8c8c8" stroke-width="3.00"/>
<rect x="379.5" y="338.5" width="262.0" height="187.0" fill="none" stroke="#383838" stroke-width="1.10"/>
<line x1="391.4" y1="525.5" x2="391.4" y2="530.5" stroke="#363636" stroke-width="1.3"/>
<text transform="translate(391.4 543.8) scale(1.1 1)" text-anchor="middle" class="tk">-0.5</text>
<line x1="510.5" y1="525.5" x2="510.5" y2="530.5" stroke="#363636" stroke-width="1.3"/>
<text transform="translate(510.5 543.8) scale(1.1 1)" text-anchor="middle" class="tk">0</text>
<line x1="629.6" y1="525.5" x2="629.6" y2="530.5" stroke="#363636" stroke-width="1.3"/>
<text transform="translate(629.6 543.8) scale(1.1 1)" text-anchor="middle" class="tk">0.5</text>
<text x="511.5" y="558.7" text-anchor="middle" class="xl">a</text>
<line x1="374.5" y1="346.8" x2="379.5" y2="346.8" stroke="#363636" stroke-width="1.3"/>
<text transform="translate(369.3 350.6) scale(1.12 1)" text-anchor="end" class="tk">5.0</text>
<line x1="374.5" y1="503.3" x2="379.5" y2="503.3" stroke="#363636" stroke-width="1.3"/>
<text transform="translate(369.3 507.1) scale(1.12 1)" text-anchor="end" class="tk">0.0</text>
<text transform="translate(465.59 327.60) scale(1.0224 1)" class="tt">Softplus</text>
<text x="516.50" y="327.60" class="tt">(</text>
<text x="522.50" y="327.60" class="tt">1</text>
<text x="531.40" y="327.60" class="tt">0</text>
<text x="540.55" y="327.60" class="tt" font-style="italic">a</text>
<text x="548.60" y="327.60" class="tt">)</text>
<line x1="190.3" y1="17.3" x2="200.2" y2="17.3" stroke="#5cb85c" stroke-width="1"/>
<circle cx="203.2" cy="17.3" r="1" fill="#2e8b2e"/>
<text x="218.3" y="20.8" class="lg" textLength="99" lengthAdjust="spacingAndGlyphs">Target function</text>
<line x1="333.8" y1="17.2" x2="343.7" y2="17.2" stroke="#ff3a3a" stroke-width="1.1"/>
<circle cx="346.6" cy="17.2" r="1.25" fill="#ff1010"/>
<circle cx="352.1" cy="17.2" r="1.25" fill="#ff1010"/>
<text x="364.8" y="20.8" class="lg" textLength="166.9" lengthAdjust="spacingAndGlyphs">Diffractive approximation</text>
</g>
<g shape-rendering="crispEdges">
<rect x="0" y="1" width="685" height="1" fill="#ebebeb"/>
<rect x="0" y="584" width="685" height="1" fill="#d7d7d7"/>
<rect x="1" y="0" width="1" height="586" fill="#d2d2d2"/>
<rect x="683" y="0" width="1" height="586" fill="#e4e4e4"/>
<rect x="0" y="0" width="685" height="1" fill="#5a5a5a"/>
<rect x="0" y="585" width="685" height="1" fill="#8e8e8e"/>
<rect x="0" y="0" width="1" height="586" fill="#8e8e8e"/>
<rect x="684" y="0" width="1" height="586" fill="#4a4a4a"/>
<rect x="0" y="0" width="1" height="1" fill="#b4b4b4"/>
<rect x="684" y="585" width="1" height="1" fill="#9a9a9a"/>
<rect x="0" y="585" width="1" height="1" fill="#b8b8b8"/>
<rect x="684" y="0" width="1" height="1" fill="#6a6a6a"/>
</g></svg>
</div></body></html>
